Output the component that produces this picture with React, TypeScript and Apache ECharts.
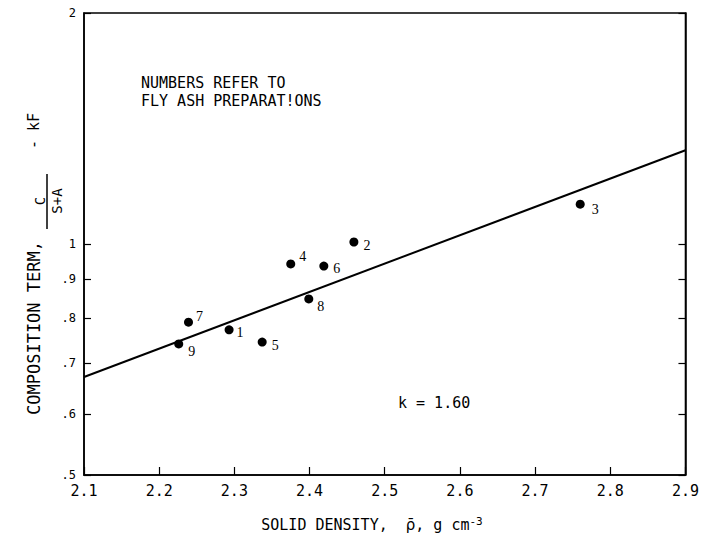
import React, { useEffect, useRef } from "react";
import * as echarts from "echarts";

const prepIds = ["1", "2", "3", "4", "5", "6", "7", "8", "9"];
const density = [2.293, 2.459, 2.76, 2.375, 2.337, 2.419, 2.239, 2.399, 2.226];
const composition = [0.773, 1.006, 1.127, 0.942, 0.745, 0.936, 0.791, 0.848, 0.741];
const fitX = [2.1, 2.9];
const fitY = [0.671, 1.325];
const xTicks = [2.1, 2.2, 2.3, 2.4, 2.5, 2.6, 2.7, 2.8, 2.9];
const yTicks = [0.5, 0.6, 0.7, 0.8, 0.9, 1, 2];

// label offsets (style only)
const labelOffsets: Record<string, [number, number]> = {
  "1": [3, 3], "2": [5, 3], "3": [7, 5], "4": [4, -7], "5": [5, 3],
  "6": [5, 2], "7": [3, -6], "8": [4, 8], "9": [5, 8],
};

const FONT = "DejaVu Sans Mono";

export default function App() {
  const ref = useRef<HTMLDivElement>(null);
  useEffect(() => {
    document.body.style.margin = "0";
    const chart = echarts.init(ref.current!, null, { renderer: "svg" });
    const yLabel = (v: number) => {
      const r = Math.round(v * 10);
      if (r === 10) return "1";
      if (r === 20) return "2";
      return "." + r;
    };
    chart.setOption({
      animation: false,
      backgroundColor: "#fff",
      grid: {
        left: 84, right: 14, top: 13, bottom: 66,
        show: true, borderColor: "#000", borderWidth: 1.5, backgroundColor: "transparent",
      },
      xAxis: {
        type: "value", min: 2.1, max: 2.9, interval: 0.1,
        axisLine: { show: true, lineStyle: { color: "#000", width: 1.5 } },
        axisTick: { show: true, inside: true, length: 8, lineStyle: { color: "#000", width: 1.2 } },
        splitLine: { show: false },
        axisLabel: {
          color: "#000", fontFamily: FONT, fontSize: 15, margin: 8,
          formatter: (v: number) => v.toFixed(1),
          customValues: xTicks,
        },
      },
      yAxis: [
        {
          type: "log", min: 0.5, max: 2, logBase: 10,
          axisLine: { show: true, lineStyle: { color: "#000", width: 1.5 } },
          axisTick: { show: true, inside: true, length: 7, lineStyle: { color: "#000", width: 1.2 }, customValues: yTicks },
          splitLine: { show: false },
          minorTick: { show: false },
          axisLabel: { color: "#000", fontFamily: FONT, fontSize: 12, margin: 8, formatter: yLabel, customValues: yTicks },
        },
        {
          type: "log", min: 0.5, max: 2, logBase: 10, position: "right",
          axisLine: { show: true, lineStyle: { color: "#000", width: 1.5 } },
          axisTick: { show: true, inside: true, length: 7, lineStyle: { color: "#000", width: 1.2 }, customValues: yTicks },
          splitLine: { show: false },
          axisLabel: { show: false },
        },
      ],
      series: [
        {
          type: "line",
          data: fitX.map((x, i) => [x, fitY[i]]),
          showSymbol: false,
          symbol: "none",
          lineStyle: { color: "#000", width: 2 },
          silent: true,
        },
        {
          type: "scatter",
          symbol: "circle",
          symbolSize: 9,
          itemStyle: { color: "#000", opacity: 1 },
          label: { show: true, color: "#000", fontFamily: "Liberation Serif", fontSize: 14 },
          data: prepIds.map((id, i) => ({
            value: [density[i], composition[i]],
            label: {
              show: true,
              formatter: id,
              position: "right",
              distance: 0,
              offset: labelOffsets[id],
              color: "#000",
              fontFamily: "Liberation Serif",
              fontSize: 14,
            },
          })),
        },
      ],
      graphic: [
        {
          type: "text", x: 141, y: 83,
          style: { text: "NUMBERS REFER TO", font: `15px "${FONT}"`, fill: "#000", textVerticalAlign: "middle" },
        },
        {
          type: "text", x: 141, y: 101,
          style: { text: "FLY ASH PREPARAT!ONS", font: `15px "${FONT}"`, fill: "#000", textVerticalAlign: "middle" },
        },
        {
          type: "text", x: 398, y: 403,
          style: { text: "k = 1.60", font: `15px "${FONT}"`, fill: "#000", textVerticalAlign: "middle" },
        },
        {
          type: "text", x: 372, y: 525,
          style: {
            text: "SOLID DENSITY,  {rho|ρ̄}, g cm{sup|-3}",
            font: `15px "${FONT}"`, fill: "#000", textAlign: "center", textVerticalAlign: "middle",
            rich: {
              rho: { fontSize: 15, fontFamily: "DejaVu Sans", fill: "#000" },
              sup: { fontSize: 11, fontFamily: FONT, verticalAlign: "top", padding: [0, 0, 8, 0], fill: "#000" },
            },
          },
        },
        {
          type: "text", x: 34, y: 328, rotation: Math.PI / 2,
          style: { text: "COMPOSITION TERM,", font: `17px "${FONT}"`, fill: "#000", textAlign: "center", textVerticalAlign: "middle" },
        },
        {
          type: "text", x: 40, y: 201, rotation: Math.PI / 2,
          style: { text: "C", font: `14px "${FONT}"`, fill: "#000", textAlign: "center", textVerticalAlign: "middle" },
        },
        {
          type: "line", shape: { x1: 47, y1: 174, x2: 47, y2: 229 },
          style: { stroke: "#000", lineWidth: 1.5 },
        },
        {
          type: "text", x: 57, y: 201, rotation: Math.PI / 2,
          style: { text: "S+A", font: `14px "${FONT}"`, fill: "#000", textAlign: "center", textVerticalAlign: "middle" },
        },
        {
          type: "text", x: 34, y: 131, rotation: Math.PI / 2,
          style: { text: "- kF", font: `15px "${FONT}"`, fill: "#000", textAlign: "center", textVerticalAlign: "middle" },
        },
      ],
    });
    return () => chart.dispose();
  }, []);
  return <div ref={ref} style={{ width: 702, height: 541, position: "absolute", left: 0, top: 0 }} />;
}
